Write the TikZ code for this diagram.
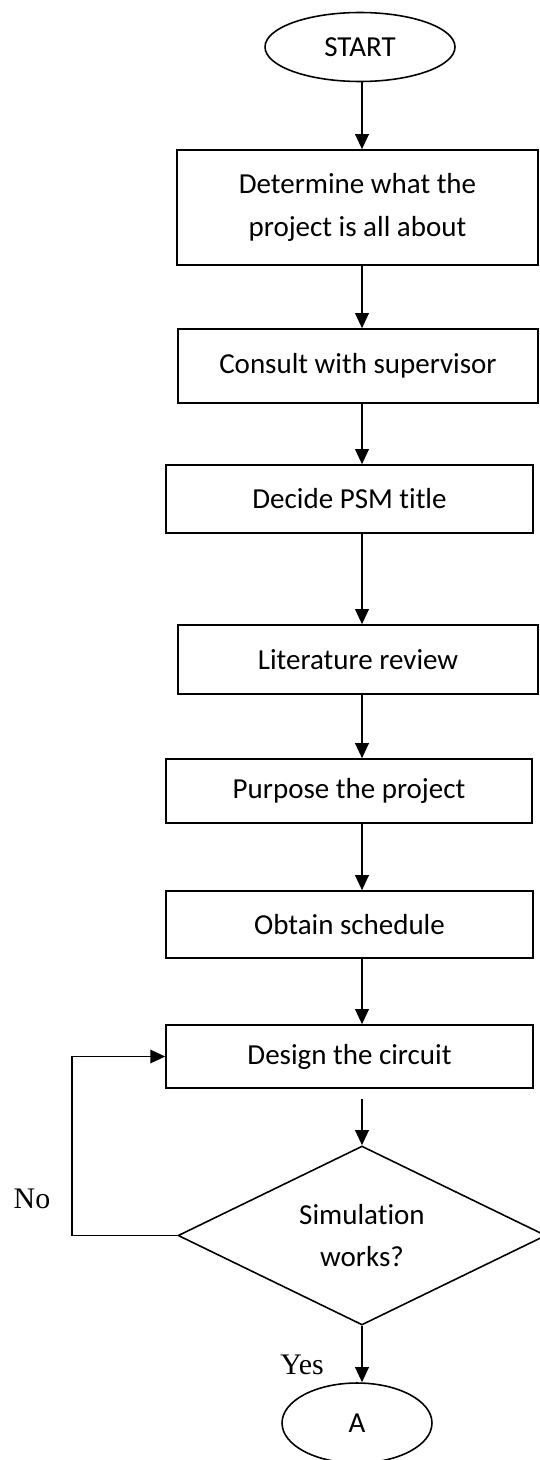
\documentclass[tikz,border=0pt]{standalone}
\usepackage{fontspec}
\setmainfont{Carlito}[Ligatures=NoCommon]
\newfontfamily\timesfont{Liberation Serif}
\usetikzlibrary{shapes.geometric,arrows.meta}
\begin{document}
\begin{tikzpicture}[x=0.02cm,y=-0.02cm,
  every node/.style={font=\fontsize{16.5}{24}\selectfont},
  stepbox/.style={draw,line width=0.9pt,align=center,inner sep=0pt},
  term/.style={draw,ellipse,line width=0.9pt,inner sep=0pt},
  decide/.style={draw,diamond,aspect=2,line width=0.9pt,align=center,inner sep=0pt},
  flow/.style={line width=1.1pt,-{Triangle[length=0.3cm,width=0.27cm]}},
  yesno/.style={font=\timesfont\fontsize{17}{20}\selectfont}]
\useasboundingbox(0,0)rectangle(539,1460);
\coordinate(spine)at(362,0);
\node[term,minimum width=3.8cm,minimum height=1.38cm](start)at(360,47){START};
\node[stepbox,minimum width=7.22cm,minimum height=2.3cm](about)at(357.5,207.5){Determine what the\\project is all about};
\node[stepbox,minimum width=7.2cm,minimum height=1.48cm](consult)at(358,366){Consult with supervisor};
\node[stepbox,minimum width=7.34cm,minimum height=1.36cm](title)at(349.5,499){Decide PSM title};
\node[stepbox,minimum width=7.2cm,minimum height=1.38cm](review)at(358,659.5){Literature review};
\node[stepbox,minimum width=7.32cm,minimum height=1.28cm](purpose)at(349,791){Purpose the project};
\node[stepbox,minimum width=7.34cm,minimum height=1.34cm](schedule)at(349.5,924.5){Obtain schedule};
\node[stepbox,minimum width=7.34cm,minimum height=1.26cm](design)at(349.5,1056.5){Design the circuit};
\node[decide,minimum width=7.36cm,minimum height=3.58cm](sim)at(362,1235.5){Simulation\\works?};
\node[term,minimum width=3cm,minimum height=1.6cm](endA)at(357,1423){A};
\node[yesno](no)at(32,1199){No};
\node[yesno](yes)at(302,1365){Yes};
\draw[flow](start.south-|spine)--(about.north-|spine);
\draw[flow](about.south-|spine)--(consult.north-|spine);
\draw[flow](consult.south-|spine)--(title.north-|spine);
\draw[flow](title.south-|spine)--(review.north-|spine);
\draw[flow](review.south-|spine)--(purpose.north-|spine);
\draw[flow](purpose.south-|spine)--(schedule.north-|spine);
\draw[flow](schedule.south-|spine)--(design.north-|spine);
\draw[flow,shorten <=0.2cm](design.south-|spine)--(sim.north);
\draw[flow](sim.south)--(endA.north-|spine);
\draw[flow](sim.west)--++(-105,0)|-(design.west);
\end{tikzpicture}
\end{document}
